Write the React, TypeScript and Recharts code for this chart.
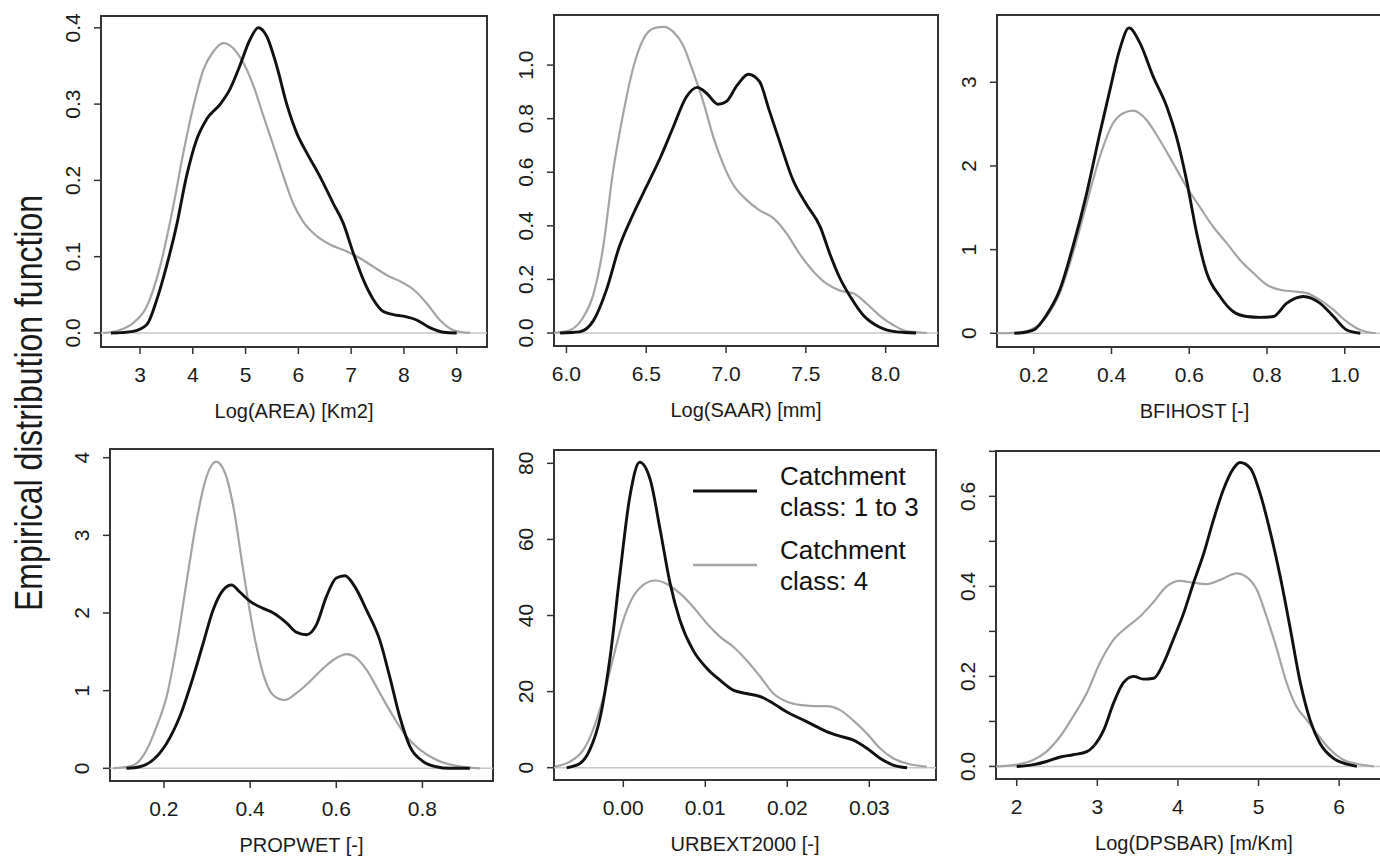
import React from 'react';
import { LineChart, Line, XAxis, YAxis, ReferenceLine, ReferenceArea, Legend, Label } from 'recharts';

const FONT = '"Liberation Sans", Arial, Helvetica, sans-serif';
const BLACK = '#111111';
const GREY = '#a4a4a4';
const FRAME = '#333333';

// kernel density curves: [x, density]
const areaClass13 = [[2.45, 0], [2.65, 0.0005], [2.87, 0.002], [3.13, 0.011], [3.32, 0.044], [3.5, 0.087], [3.69, 0.14], [3.88, 0.205], [4.07, 0.253], [4.26, 0.28], [4.52, 0.3], [4.7, 0.319], [4.89, 0.35], [5.08, 0.384], [5.24, 0.4], [5.4, 0.389], [5.59, 0.35], [5.78, 0.3], [5.97, 0.262], [6.16, 0.236], [6.41, 0.205], [6.66, 0.17], [6.85, 0.144], [7.04, 0.105], [7.23, 0.07], [7.42, 0.044], [7.61, 0.028], [7.8, 0.024], [7.99, 0.022], [8.24, 0.017], [8.49, 0.007], [8.75, 0.001], [9.0, 0]];
const areaClass4 = [[2.3, 0], [2.62, 0.004], [2.87, 0.013], [3.13, 0.035], [3.38, 0.087], [3.63, 0.166], [3.82, 0.236], [4.01, 0.297], [4.2, 0.345], [4.39, 0.369], [4.58, 0.38], [4.77, 0.373], [4.96, 0.354], [5.15, 0.324], [5.34, 0.284], [5.53, 0.245], [5.72, 0.205], [5.9, 0.17], [6.09, 0.146], [6.35, 0.127], [6.6, 0.116], [6.91, 0.107], [7.17, 0.098], [7.42, 0.087], [7.67, 0.076], [7.92, 0.068], [8.18, 0.057], [8.43, 0.039], [8.68, 0.017], [8.93, 0.004], [9.25, 0]];

const saarClass13 = [[5.96, 0], [6.08, 0.004], [6.17, 0.047], [6.25, 0.16], [6.33, 0.32], [6.42, 0.446], [6.5, 0.545], [6.59, 0.657], [6.67, 0.77], [6.75, 0.88], [6.82, 0.917], [6.88, 0.894], [6.95, 0.854], [7.0, 0.863], [7.07, 0.925], [7.14, 0.966], [7.21, 0.938], [7.27, 0.832], [7.34, 0.707], [7.42, 0.57], [7.5, 0.483], [7.59, 0.396], [7.65, 0.296], [7.71, 0.209], [7.78, 0.134], [7.86, 0.066], [7.96, 0.022], [8.07, 0.004], [8.19, 0]];
const saarClass4 = [[5.92, 0], [6.02, 0.01], [6.1, 0.054], [6.17, 0.147], [6.23, 0.32], [6.29, 0.595], [6.36, 0.832], [6.42, 0.994], [6.48, 1.095], [6.55, 1.138], [6.61, 1.143], [6.67, 1.124], [6.73, 1.075], [6.79, 0.981], [6.86, 0.857], [6.92, 0.732], [6.98, 0.633], [7.04, 0.558], [7.13, 0.496], [7.21, 0.458], [7.3, 0.427], [7.38, 0.371], [7.46, 0.296], [7.55, 0.228], [7.63, 0.184], [7.71, 0.159], [7.8, 0.147], [7.88, 0.11], [7.96, 0.066], [8.05, 0.029], [8.13, 0.007], [8.26, 0]];

const bfiClass13 = [[0.15, 0], [0.164, 0.003], [0.2, 0.04], [0.233, 0.22], [0.267, 0.52], [0.301, 1.04], [0.336, 1.67], [0.37, 2.39], [0.396, 2.91], [0.421, 3.39], [0.445, 3.65], [0.473, 3.47], [0.507, 3.07], [0.542, 2.71], [0.567, 2.35], [0.593, 1.83], [0.619, 1.2], [0.645, 0.72], [0.679, 0.44], [0.713, 0.26], [0.748, 0.2], [0.782, 0.19], [0.816, 0.2], [0.851, 0.36], [0.894, 0.44], [0.936, 0.36], [0.971, 0.2], [1.005, 0.04], [1.04, 0]];
const bfiClass4 = [[0.104, 0], [0.164, 0.01], [0.2, 0.06], [0.233, 0.2], [0.267, 0.48], [0.301, 0.96], [0.336, 1.55], [0.37, 2.11], [0.404, 2.51], [0.43, 2.63], [0.456, 2.66], [0.49, 2.55], [0.524, 2.31], [0.559, 2.03], [0.593, 1.75], [0.627, 1.51], [0.662, 1.27], [0.696, 1.08], [0.73, 0.88], [0.765, 0.72], [0.799, 0.58], [0.833, 0.52], [0.868, 0.5], [0.902, 0.48], [0.936, 0.4], [0.971, 0.28], [1.005, 0.14], [1.04, 0.04], [1.08, 0]];

const propClass13 = [[0.113, 0], [0.144, 0.02], [0.175, 0.11], [0.206, 0.32], [0.237, 0.67], [0.268, 1.18], [0.291, 1.61], [0.314, 2.04], [0.338, 2.3], [0.357, 2.36], [0.376, 2.27], [0.4, 2.15], [0.43, 2.06], [0.454, 2.0], [0.485, 1.87], [0.508, 1.75], [0.531, 1.72], [0.554, 1.85], [0.577, 2.21], [0.6, 2.45], [0.62, 2.48], [0.643, 2.34], [0.67, 2.04], [0.701, 1.65], [0.724, 1.18], [0.747, 0.67], [0.771, 0.28], [0.801, 0.09], [0.832, 0.02], [0.863, 0], [0.91, 0]];
const propClass4 = [[0.082, 0], [0.129, 0.04], [0.16, 0.24], [0.183, 0.54], [0.206, 0.92], [0.229, 1.57], [0.253, 2.42], [0.276, 3.2], [0.299, 3.76], [0.321, 3.95], [0.342, 3.8], [0.361, 3.37], [0.384, 2.55], [0.407, 1.78], [0.43, 1.22], [0.454, 0.94], [0.481, 0.88], [0.508, 0.97], [0.539, 1.12], [0.57, 1.29], [0.6, 1.42], [0.624, 1.47], [0.647, 1.42], [0.67, 1.27], [0.701, 0.97], [0.732, 0.67], [0.763, 0.41], [0.794, 0.24], [0.825, 0.13], [0.856, 0.06], [0.894, 0.02], [0.933, 0]];

const urbClass13 = [[-0.0069, 0], [-0.0053, 1.1], [-0.0041, 4.6], [-0.0028, 13.4], [-0.0016, 29.2], [-0.0004, 51.1], [0.0008, 71.3], [0.002, 80.3], [0.0033, 75.6], [0.0045, 62.5], [0.0057, 48.5], [0.0069, 38.8], [0.0085, 30.9], [0.0102, 26.1], [0.0118, 23.0], [0.0134, 20.4], [0.015, 19.5], [0.0167, 18.7], [0.0183, 16.9], [0.0199, 14.7], [0.0215, 13.0], [0.0232, 11.2], [0.0248, 9.5], [0.0264, 8.3], [0.028, 7.3], [0.0297, 5.1], [0.0313, 2.5], [0.0329, 0.7], [0.0346, 0]];
const urbClass4 = [[-0.0083, 0.3], [-0.0065, 1.6], [-0.0049, 4.6], [-0.0037, 9.9], [-0.0024, 18.7], [-0.0012, 29.2], [0.0, 38.8], [0.0012, 45.0], [0.0024, 48.0], [0.0039, 49.2], [0.0053, 48.3], [0.0069, 45.8], [0.0085, 42.3], [0.0102, 37.9], [0.0118, 34.4], [0.0134, 31.8], [0.015, 28.3], [0.0167, 23.9], [0.0183, 19.5], [0.0199, 17.4], [0.0215, 16.5], [0.0232, 16.2], [0.0248, 16.2], [0.0264, 15.2], [0.028, 12.5], [0.0297, 9.0], [0.0313, 5.1], [0.0329, 2.5], [0.0346, 1.1], [0.037, 0.3]];

const dpsClass13 = [[2.0, 0], [2.21, 0.004], [2.37, 0.011], [2.54, 0.021], [2.7, 0.026], [2.87, 0.033], [2.95, 0.044], [3.08, 0.081], [3.2, 0.14], [3.32, 0.185], [3.45, 0.2], [3.57, 0.194], [3.7, 0.196], [3.82, 0.229], [3.94, 0.281], [4.07, 0.34], [4.19, 0.406], [4.32, 0.473], [4.44, 0.547], [4.56, 0.613], [4.69, 0.662], [4.77, 0.675], [4.9, 0.662], [5.02, 0.606], [5.14, 0.525], [5.27, 0.421], [5.39, 0.31], [5.52, 0.185], [5.64, 0.103], [5.76, 0.052], [5.93, 0.018], [6.1, 0.005], [6.22, 0]];
const dpsClass4 = [[1.75, 0], [2.0, 0.004], [2.21, 0.015], [2.37, 0.033], [2.54, 0.067], [2.7, 0.111], [2.87, 0.163], [3.03, 0.229], [3.2, 0.281], [3.37, 0.31], [3.53, 0.333], [3.7, 0.366], [3.86, 0.4], [4.03, 0.412], [4.19, 0.408], [4.36, 0.405], [4.52, 0.414], [4.73, 0.429], [4.85, 0.421], [4.98, 0.392], [5.1, 0.333], [5.23, 0.259], [5.35, 0.185], [5.47, 0.133], [5.6, 0.103], [5.72, 0.074], [5.89, 0.037], [6.05, 0.015], [6.22, 0.006], [6.43, 0]];

// tick positions
const areaTicks = [3, 4, 5, 6, 7, 8, 9];
const saarTicks = [6, 6.5, 7, 7.5, 8];
const bfiTicks = [0.2, 0.4, 0.6, 0.8, 1.0];
const propTicks = [0.2, 0.4, 0.6, 0.8];
const urbTicks = [0, 0.01, 0.02, 0.03];
const dpsTicks = [2, 3, 4, 5, 6];
const areaDensTicks = [0, 0.1, 0.2, 0.3, 0.4];
const saarDensTicks = [0, 0.2, 0.4, 0.6, 0.8, 1.0];
const bfiDensTicks = [0, 1, 2, 3];
const propDensTicks = [0, 1, 2, 3, 4];
const urbDensTicks = [0, 20, 40, 60, 80];
const dpsDensTicks = [0, 0.1, 0.2, 0.3, 0.4, 0.5, 0.6, 0.7];

const seriesNames = ['Catchment class: 1 to 3', 'Catchment class: 4'];
const legendLines = [['Catchment', 'class: 1 to 3'], ['Catchment', 'class: 4']];

const rows = (pts: number[][]) => pts.map(([x, y]) => ({ x, y }));

// box = [left, top, right, bottom] of the plot frame on the page
const panels = [
  { title: 'Log(AREA) [Km2]', box: [101, 16, 487, 347], xd: [2.261, 9.574], yd: [-0.0184, 0.4155], xt: areaTicks, yt: areaDensTicks, xf: 0, yf: 1, a: areaClass13, b: areaClass4 },
  { title: 'Log(SAAR) [mm]', box: [554, 15, 938, 346], xd: [5.922, 8.328], yd: [-0.0486, 1.187], xt: saarTicks, yt: saarDensTicks, xf: 1, yf: 1, a: saarClass13, b: saarClass4 },
  { title: 'BFIHOST [-]', box: [997, 15, 1392, 347], xd: [0.1055, 1.1215], yd: [-0.164, 3.804], xt: bfiTicks, yt: bfiDensTicks, xf: 1, yf: 0, a: bfiClass13, b: bfiClass4 },
  { title: 'PROPWET [-]', box: [110, 449, 493, 781], xd: [0.0747, 0.9638], yd: [-0.1636, 4.112], xt: propTicks, yt: propDensTicks, xf: 1, yf: 0, a: propClass13, b: propClass4 },
  { title: 'URBEXT2000 [-]', box: [554, 450, 936, 780], xd: [-0.00845, 0.03813], yd: [-3.23, 83.5], xt: urbTicks, yt: urbDensTicks, xf: 2, yf: 0, a: urbClass13, b: urbClass4, legend: true },
  { title: 'Log(DPSBAR) [m/Km]', box: [996, 451, 1392, 779], xd: [1.743, 6.656], yd: [-0.0279, 0.7007], xt: dpsTicks, yt: dpsDensTicks, xf: 0, yf: 1, a: dpsClass13, b: dpsClass4, skipOdd: true },
];

const YAXIS_W = 100;
const PAD_TOP = 10;
const PAD_RIGHT = 10;
const XAXIS_H = 80;
const TICK_FONT = 21;

const LegendBox = () => (
  <svg width={260} height={140} style={{ display: 'block' }}>
    {legendLines.map((lines, i) => {
      const base = i === 0 ? 0 : 74;
      return (
        <g key={i}>
          <line x1={13} x2={77} y1={base + 31} y2={base + 31} stroke={i === 0 ? BLACK : GREY} strokeWidth={i === 0 ? 3.2 : 2.6} />
          <text x={100} y={base + 25} fontSize={26} fontFamily={FONT} fill="#111">{lines[0]}</text>
          <text x={100} y={base + 56} fontSize={26} fontFamily={FONT} fill="#111">{lines[1]}</text>
        </g>
      );
    })}
  </svg>
);

const Panel = ({ p }: any) => {
  const [l, t, r, b] = p.box;
  const w = r - l + YAXIS_W + PAD_RIGHT;
  const h = b - t + PAD_TOP + XAXIS_H;
  const xTick = (props: any) => (
    <text x={props.x} y={props.y + 26} textAnchor="middle" fontSize={TICK_FONT} fontFamily={FONT} fill="#1a1a1a">
      {Number(props.payload.value).toFixed(p.xf)}
    </text>
  );
  const yTick = (props: any) => {
    const v = Number(props.payload.value);
    if (p.skipOdd && Math.round(v * 10) % 2 === 1) return <g />;
    const tx = props.x - 12;
    return (
      <text x={tx} y={props.y} transform={`rotate(-90, ${tx}, ${props.y})`} textAnchor="middle" fontSize={TICK_FONT} fontFamily={FONT} fill="#1a1a1a">
        {v.toFixed(p.yf)}
      </text>
    );
  };
  return (
    <div style={{ position: 'absolute', left: l - YAXIS_W, top: t - PAD_TOP }}>
      <LineChart width={w} height={h} margin={{ top: PAD_TOP, right: PAD_RIGHT, bottom: 0, left: 0 }}>
        <XAxis type="number" dataKey="x" domain={p.xd} ticks={p.xt} allowDataOverflow height={XAXIS_H}
          axisLine={false} tickSize={7} tickMargin={2} tickLine={{ stroke: FRAME, strokeWidth: 1.5 }} tick={xTick} interval={0}>
          <Label content={(lp: any) => {
            const vb = lp.viewBox || { x: YAXIS_W, y: b - t + PAD_TOP, width: r - l };
            return (
              <text x={vb.x + vb.width / 2} y={vb.y + 71} textAnchor="middle" fontSize={20} fontFamily={FONT} fill="#1a1a1a">{p.title}</text>
            );
          }} />
        </XAxis>
        <YAxis type="number" domain={p.yd} ticks={p.yt} allowDataOverflow width={YAXIS_W}
          axisLine={false} tickSize={7} tickMargin={2} tickLine={{ stroke: FRAME, strokeWidth: 1.5 }} tick={yTick} interval={0} />
        <ReferenceLine y={0} stroke="#c6c6c6" strokeWidth={1.5} />
        <Line data={rows(p.b)} dataKey="y" name={seriesNames[1]} type="monotone" dot={false} stroke={GREY} strokeWidth={2.2} isAnimationActive={false} />
        <Line data={rows(p.a)} dataKey="y" name={seriesNames[0]} type="monotone" dot={false} stroke={BLACK} strokeWidth={2.9} isAnimationActive={false} />
        <ReferenceArea x1={p.xd[0]} x2={p.xd[1]} y1={p.yd[0]} y2={p.yd[1]} fill="none" fillOpacity={0} stroke={FRAME} strokeWidth={2} ifOverflow="visible" />
        {p.legend && (
          <Legend layout="horizontal" verticalAlign="middle" align="center" content={LegendBox}
            wrapperStyle={{ left: 680 - (l - YAXIS_W), top: 460 - (t - PAD_TOP), width: 260, height: 140 }} />
        )}
      </LineChart>
    </div>
  );
};

export default function App() {
  return (
    <div style={{ position: 'absolute', left: 0, top: 0, width: 1380, height: 857, overflow: 'hidden', background: '#fff', fontFamily: FONT }}>
      <svg width={70} height={857} style={{ position: 'absolute', left: 0, top: 0 }}>
        <text transform="translate(42,403) rotate(-90) scale(1,1.2)" textAnchor="middle" fontSize={32} fontFamily={FONT} fill="#1a1a1a">
          Empirical distribution function
        </text>
      </svg>
      {panels.map((p, i) => <Panel key={i} p={p} />)}
    </div>
  );
}
